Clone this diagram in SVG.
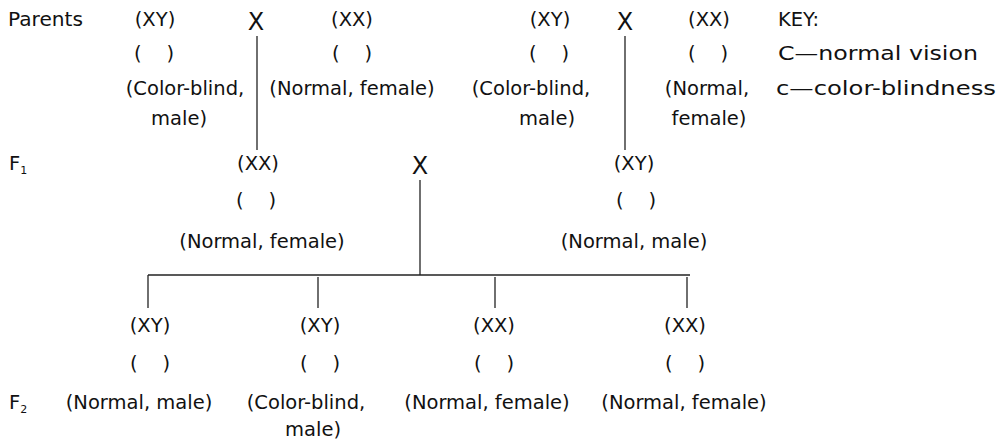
<svg xmlns="http://www.w3.org/2000/svg" width="1007" height="445" viewBox="0 0 1007 445">
<style>
text{font-family:"DejaVu Sans","Liberation Sans",sans-serif;font-size:19.5px;fill:#111;text-anchor:middle;white-space:pre}
.l{text-anchor:start}
.x{font-size:24px}
line{stroke:#222;stroke-width:1.3}
</style>
<rect width="1007" height="445" fill="#fff"/>
<g id="labels">
<text class="l" x="8" y="26" textLength="75" lengthAdjust="spacingAndGlyphs">Parents</text>
<text class="l" x="9" y="170">F<tspan font-size="11" dy="4">1</tspan></text>
<text class="l" x="9" y="409">F<tspan font-size="11" dy="4">2</tspan></text>
</g>
<g id="p1-male"><text x="155" y="26">(XY)</text><text x="154" y="60" xml:space="preserve">(    )</text><text x="185" y="95">(Color-blind,</text><text x="179" y="125">male)</text></g>
<g id="cross1"><text class="x" x="256" y="30">X</text></g>
<g id="p1-female"><text x="352" y="26">(XX)</text><text x="352" y="60" xml:space="preserve">(    )</text><text x="352" y="95">(Normal, female)</text></g>
<g id="p2-male"><text x="550" y="26">(XY)</text><text x="549" y="60" xml:space="preserve">(    )</text><text x="531" y="95">(Color-blind,</text><text x="547" y="125">male)</text></g>
<g id="cross2"><text class="x" x="625" y="30">X</text></g>
<g id="p2-female"><text x="709" y="26">(XX)</text><text x="708" y="60" xml:space="preserve">(    )</text><text x="707" y="95">(Normal,</text><text x="709" y="125">female)</text></g>
<g id="key"><text class="l" x="778" y="26">KEY:</text><text class="l" x="778" y="60" textLength="200" lengthAdjust="spacingAndGlyphs">C—normal vision</text><text class="l" x="776" y="95" textLength="220" lengthAdjust="spacingAndGlyphs">c—color-blindness</text></g>
<g id="f1-female"><text x="258" y="170">(XX)</text><text x="256" y="207" xml:space="preserve">(    )</text><text x="262" y="248">(Normal, female)</text></g>
<g id="cross3"><text class="x" x="420" y="174">X</text></g>
<g id="f1-male"><text x="634" y="170">(XY)</text><text x="636" y="207" xml:space="preserve">(    )</text><text x="634" y="248">(Normal, male)</text></g>
<g id="f2-1"><text x="150" y="332">(XY)</text><text x="150" y="370" xml:space="preserve">(    )</text><text x="139" y="409">(Normal, male)</text></g>
<g id="f2-2"><text x="320" y="332">(XY)</text><text x="320" y="370" xml:space="preserve">(    )</text><text x="306" y="409">(Color-blind,</text><text x="313" y="436">male)</text></g>
<g id="f2-3"><text x="494" y="332">(XX)</text><text x="494" y="370" xml:space="preserve">(    )</text><text x="487" y="409">(Normal, female)</text></g>
<g id="f2-4"><text x="685" y="332">(XX)</text><text x="685" y="370" xml:space="preserve">(    )</text><text x="684" y="409">(Normal, female)</text></g>
<g id="connectors">
<line x1="257" y1="36" x2="257" y2="150"/>
<line x1="625" y1="36" x2="625" y2="150"/>
<line x1="420" y1="180" x2="420" y2="275"/>
<line x1="148" y1="275" x2="690" y2="275"/>
<line x1="148" y1="275" x2="148" y2="308"/>
<line x1="318" y1="277" x2="318" y2="308"/>
<line x1="495" y1="277" x2="495" y2="308"/>
<line x1="687" y1="277" x2="687" y2="308"/>
</g>
</svg>
